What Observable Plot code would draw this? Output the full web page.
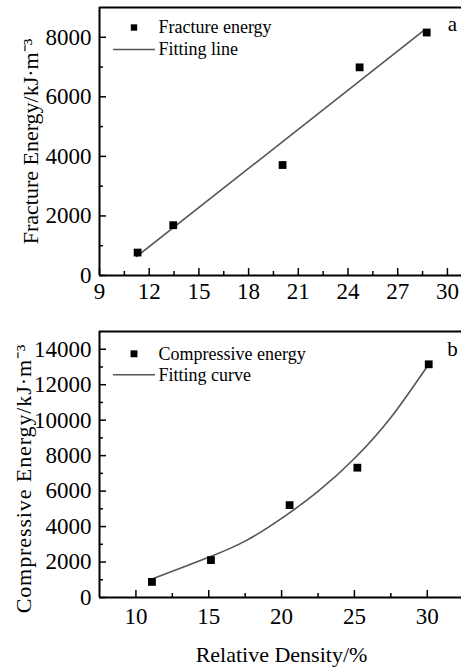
<!DOCTYPE html>
<html>
<head>
<meta charset="utf-8">
<script src="https://cdn.jsdelivr.net/npm/d3@7"></script>
<script src="https://cdn.jsdelivr.net/npm/@observablehq/plot@0.6"></script>
<style>
  html, body { margin: 0; padding: 0; background: #fff; overflow: hidden; }
  #chart svg { display: block; font-family: "Liberation Serif", "Times New Roman", serif; }
  #chart svg text { font-family: "Liberation Serif", "Times New Roman", serif; }
  #chart svg.panel-b g.ytitle text { letter-spacing: 0.9px; }
</style>
</head>
<body>
<div id="chart"></div>
<script>
// ---- Panel a data ----
const fractureDensity = [11.3, 13.45, 20.05, 24.7, 28.75];
const fractureEnergy = [770, 1690, 3710, 6990, 8160];
const fitLineDensity = [11.25, 28.6];
const fitLineEnergy = [640, 8240];
const xTicksA = [9, 12, 15, 18, 21, 24, 27, 30];
const xMinorA = [10.5, 13.5, 16.5, 19.5, 22.5, 25.5, 28.5];
const yTicksA = [0, 2000, 4000, 6000, 8000];
const yMinorA = [1000, 3000, 5000, 7000];

// ---- Panel b data ----
const compDensity = [11.1, 15.15, 20.55, 25.2, 30.1];
const compEnergy = [880, 2110, 5210, 7320, 13150];
const fitCurveDensity = [11.1, 13, 15, 17.5, 20, 22.5, 25, 27.5, 30.05];
const fitCurveEnergy = [1050, 1640, 2270, 3180, 4460, 5980, 7840, 10150, 13100];
const xTicksB = [10, 15, 20, 25, 30];
const xMinorB = [12.5, 17.5, 22.5, 27.5];
const yTicksB = [0, 2000, 4000, 6000, 8000, 10000, 12000, 14000];
const yMinorB = [1000, 3000, 5000, 7000, 9000, 11000, 13000];

const FONT = "Liberation Serif";
const lineSymbol = { draw(ctx) { ctx.moveTo(-21, 0); ctx.lineTo(21, 0); } };

function panel(o) {
  const W = 461;
  const fh = o.height - o.marginTop - o.marginBottom;
  const fw = W - 99;
  const pts = o.px.map((x, i) => ({x, y: o.py[i]}));
  const fit = o.fx.map((x, i) => ({x, y: o.fy[i]}));
  const marks = [
    Plot.axisX({ticks: o.xTicks, tickSize: 0, tickPadding: o.xPad, tickFormat: d => String(d),
      label: null, fontSize: 23, fontFamily: FONT}),
    Plot.axisY({ticks: o.yTicks, tickSize: 0, tickPadding: 8, tickFormat: d => String(d),
      label: null, fontSize: 23, fontFamily: FONT}),
    // inward ticks
    Plot.tickX(o.xTicks, {x: d => d, insetTop: fh - 7, stroke: "#000", strokeWidth: 1.5}),
    Plot.tickX(o.xMinor, {x: d => d, insetTop: fh - 4, stroke: "#000", strokeWidth: 1.5}),
    Plot.tickY(o.yTicks, {y: d => d, insetRight: fw - 7, stroke: "#000", strokeWidth: 1.5}),
    Plot.tickY(o.yMinor, {y: d => d, insetRight: fw - 4, stroke: "#000", strokeWidth: 1.5}),
    // frame: top, left, bottom
    Plot.ruleY([o.yDomain[1]], {stroke: "#000", strokeWidth: 2}),
    Plot.ruleY([o.yDomain[0]], {stroke: "#000", strokeWidth: 2}),
    Plot.ruleX([o.xDomain[0]], {stroke: "#000", strokeWidth: 2}),
    // fit
    Plot.line(fit, {x: "x", y: "y", stroke: "#555", strokeWidth: 1.6, curve: o.curve}),
    Plot.dot(pts, {x: "x", y: "y", symbol: "square", r: 4.4, fill: "#000", stroke: "none"}),
    // legend
    Plot.dot([0], {frameAnchor: "top-left", dx: 34.5, dy: o.legDy1, symbol: "square", r: o.legR, fill: "#000", stroke: "none"}),
    Plot.dot([0], {frameAnchor: "top-left", dx: 34.5, dy: o.legDy2, symbol: lineSymbol, r: 1, stroke: "#555", strokeWidth: 1.6, fill: "none"}),
    Plot.text([o.leg1], {frameAnchor: "top-left", dx: 59, dy: o.legDy1, textAnchor: "start", lineAnchor: "middle", fontSize: 18, fontFamily: FONT, fill: "#000"}),
    Plot.text([o.leg2], {frameAnchor: "top-left", dx: 59, dy: o.legDy2, textAnchor: "start", lineAnchor: "middle", fontSize: 18, fontFamily: FONT, fill: "#000"}),
    Plot.text([o.tag], {frameAnchor: "top-left", dx: 353, dy: o.tagDy, textAnchor: "middle", lineAnchor: "middle", fontSize: 21, fontFamily: FONT, fill: "#000"}),
    // y title
    Plot.text([o.yLabel], {frameAnchor: "left", rotate: -90, dx: o.yTitleDx, dy: o.yTitleDy, textAnchor: "middle", lineAnchor: "middle", fontSize: 22, fontFamily: FONT, fill: "#000", className: "ytitle"})
  ];
  if (o.xLabel) marks.push(
    Plot.text([o.xLabel], {frameAnchor: "bottom", dx: 1, dy: o.xTitleDy, textAnchor: "middle", lineAnchor: "middle", fontSize: 22, fontFamily: FONT, fill: "#000"})
  );
  return Plot.plot({
    width: W, height: o.height, className: o.cls,
    marginLeft: 99, marginRight: 0, marginTop: o.marginTop, marginBottom: o.marginBottom,
    style: {fontFamily: FONT, fontSize: "22px", color: "#000", background: "#fff", overflow: "visible"},
    x: {domain: o.xDomain},
    y: {domain: o.yDomain},
    marks
  });
}

const a = panel({
  cls: "panel-a",
  height: 310, marginTop: 7, marginBottom: 35,
  xDomain: [9, 30.85], yDomain: [0, 9000],
  xTicks: xTicksA, xMinor: xMinorA, yTicks: yTicksA, yMinor: yMinorA, xPad: 7,
  xLabel: null,
  yLabel: "Fracture Energy/kJ·m⁻³", yTitleDx: -69, yTitleDy: 0,
  px: fractureDensity, py: fractureEnergy, fx: fitLineDensity, fy: fitLineEnergy, curve: "linear",
  leg1: "Fracture energy", leg2: "Fitting line", legDy1: 20, legDy2: 42, legR: 3.6,
  tag: "a", tagDy: 17
});
const b = panel({
  cls: "panel-b",
  height: 358, marginTop: 21, marginBottom: 71,
  xDomain: [7.5, 32.35], yDomain: [0, 15000],
  xTicks: xTicksB, xMinor: xMinorB, yTicks: yTicksB, yMinor: yMinorB, xPad: 10,
  xLabel: "Relative Density/%", xTitleDy: 57.7,
  yLabel: "Compressive Energy/kJ·m⁻³", yTitleDx: -76, yTitleDy: 14,
  px: compDensity, py: compEnergy, fx: fitCurveDensity, fy: fitCurveEnergy, curve: "natural",
  leg1: "Compressive energy", leg2: "Fitting curve", legDy1: 22.3, legDy2: 43.3, legR: 3.9,
  tag: "b", tagDy: 18
});
document.getElementById("chart").append(a, b);
</script>
</body>
</html>
